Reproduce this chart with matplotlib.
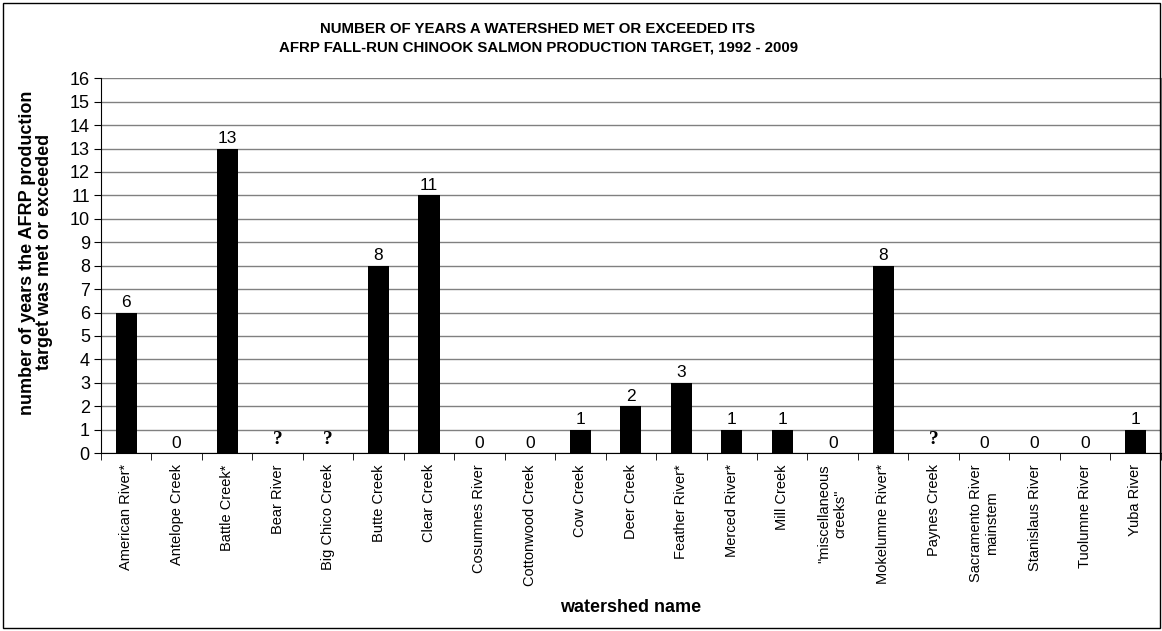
import numpy as np
import matplotlib.pyplot as plt
from matplotlib.patches import Rectangle

plt.rcParams['font.family'] = ['Liberation Sans', 'DejaVu Sans']

watersheds = ["American River*", "Antelope Creek", "Battle Creek*", "Bear River",
              "Big Chico Creek", "Butte Creek", "Clear Creek", "Cosumnes River",
              "Cottonwood Creek", "Cow Creek", "Deer Creek", "Feather River*",
              "Merced River*", "Mill Creek", "\"miscellaneous\ncreeks\"",
              "Mokelumne River*", "Paynes Creek", "Sacramento River\nmainstem",
              "Stanislaus River", "Tuolumne River", "Yuba River"]
# nan = unknown, shown as "?"
years_met = [6, 0, 13, np.nan, np.nan, 8, 11, 0, 0, 1, 2, 3, 1, 1, 0, 8,
             np.nan, 0, 0, 0, 1]

fig = plt.figure(figsize=(11.62, 6.31), dpi=100)
ax = fig.add_axes([0.0869, 0.282, 0.912, 0.594])

x = np.arange(len(watersheds))
vals = np.nan_to_num(np.array(years_met, dtype=float))
ax.bar(x, vals, width=0.42, color="black", zorder=3)

for xi, v in zip(x, years_met):
    if np.isnan(v):
        ax.text(xi, 0.2, "?", ha="center", va="bottom", fontsize=14,
                fontweight="bold", family="Liberation Serif")
    else:
        ax.text(xi, v + 0.1, str(int(v)), ha="center", va="bottom", fontsize=12.5)

ax.set_xlim(-0.5, len(watersheds) - 0.5)
ax.set_ylim(0, 16)
ax.set_yticks(range(0, 17))
ax.tick_params(axis="y", labelsize=13, length=5, direction="out", pad=3)
ax.set_xticks(x)
ax.set_xticklabels(watersheds, rotation=90, fontsize=10.5, va="top", ha="center",
                   multialignment="center")
ax.set_xticks(np.arange(-0.5, len(watersheds)), minor=True)
ax.tick_params(axis="x", which="major", length=0, pad=8)
ax.tick_params(axis="x", which="minor", length=5, direction="out")
ax.yaxis.grid(True, color="#808080", linewidth=1, zorder=0)
ax.set_axisbelow(True)
ax.spines["top"].set_visible(False)
ax.spines["right"].set_color("#808080")

fig.text(0.463, 0.94, "NUMBER OF YEARS A WATERSHED MET OR EXCEEDED ITS\n"
         "AFRP FALL-RUN CHINOOK SALMON PRODUCTION TARGET, 1992 - 2009",
         ha="center", va="center", fontsize=10.8, fontweight="bold", linespacing=1.4)
fig.text(0.031, 0.60, "number of years the AFRP production\ntarget was met or exceeded",
         rotation=90, ha="center", va="center", fontsize=13, fontweight="bold",
         linespacing=1.05)
fig.text(0.543, 0.038, "watershed name", ha="center", va="center",
         fontsize=13, fontweight="bold")

fig.patches.append(Rectangle((0.003, 0.005), 0.995, 0.99, transform=fig.transFigure,
                             fill=False, edgecolor="black", linewidth=1))

fig.savefig("out.png", dpi=100)
